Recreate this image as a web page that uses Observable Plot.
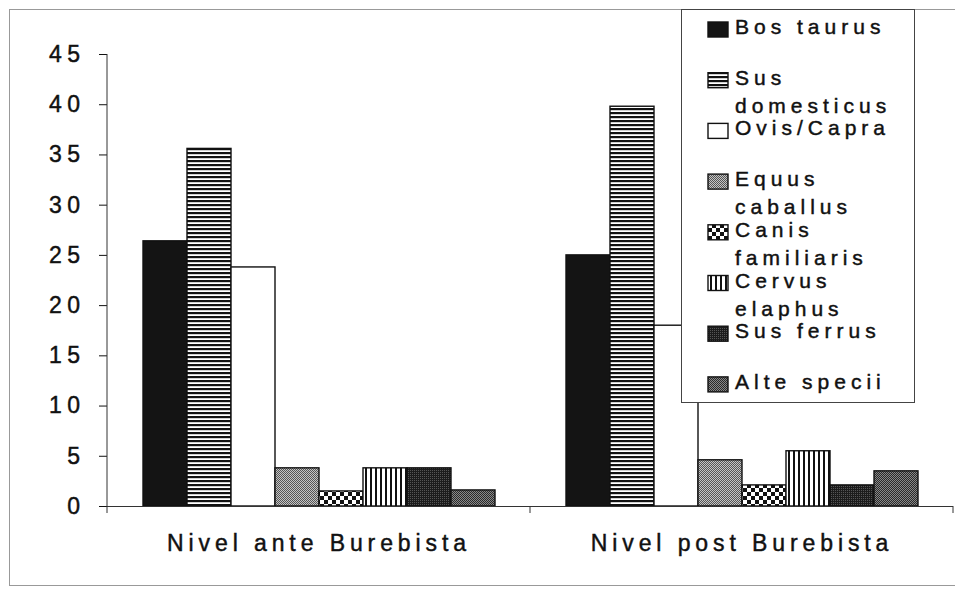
<!DOCTYPE html>
<html>
<head>
<meta charset="utf-8">
<script src="https://cdn.jsdelivr.net/npm/d3@7"></script>
<script src="https://cdn.jsdelivr.net/npm/@observablehq/plot@0.6"></script>
<style>
  html, body { margin: 0; padding: 0; background: white; }
  #chart svg { display: block; }
  #chart svg text { stroke: #111; stroke-width: 0.45px; }
  [aria-label="y-axis tick label"] text, [aria-label="y-axis tick label"] { letter-spacing: 5.5px; }
  [aria-label="fx-axis tick label"] text, [aria-label="fx-axis tick label"] { letter-spacing: 4.9px; }
  .legend text { letter-spacing: 5px; text-anchor: start; }
</style>
</head>
<body>
<div id="chart"></div>
<script>
// ---- data ----
const categories = ["Nivel ante Burebista", "Nivel post Burebista"];
const species = ["Bos taurus", "Sus domesticus", "Ovis/Capra", "Equus caballus",
                 "Canis familiaris", "Cervus elaphus", "Sus ferrus", "Alte specii"];
const valuesAnte = [26.4, 35.6, 23.8, 3.8, 1.5, 3.8, 3.8, 1.6];
const valuesPost = [25.0, 39.8, 18.0, 4.6, 2.1, 5.5, 2.1, 3.5];
const yTicks = [0, 5, 10, 15, 20, 25, 30, 35, 40, 45];
const legendLines = [["Bos taurus"], ["Sus", "domesticus"], ["Ovis/Capra"], ["Equus", "caballus"],
                     ["Canis", "familiaris"], ["Cervus", "elaphus"], ["Sus ferrus"], ["Alte specii"]];
const fills = ["#141414", "url(#pSusDom)", "#ffffff", "url(#pEquus)",
               "url(#pCanis)", "url(#pCervus)", "url(#pSusFer)", "url(#pAlte)"];

const table = [];
categories.forEach((c, ci) => {
  const vals = ci === 0 ? valuesAnte : valuesPost;
  species.forEach((s, si) => table.push({cat: c, species: s, value: vals[si]}));
});
const fillOf = s => fills[species.indexOf(s)];

const FONT = "'Liberation Sans', Arial, sans-serif";

const plot = Plot.plot({
  width: 955, height: 589,
  marginLeft: 107, marginRight: 2, marginTop: 54, marginBottom: 83,
  style: {fontFamily: FONT, fontSize: "23px", color: "#111", background: "white", overflow: "visible"},
  fx: {domain: categories, padding: 0, label: null, axis: "bottom", tickSize: 0, tickPadding: 28},
  x: {domain: species, axis: null, paddingInner: 0, paddingOuter: 0.74},
  y: {domain: [0, 45], ticks: yTicks, tickSize: 8, tickPadding: 14, label: null},
  color: {type: "identity"},
  marks: [
    Plot.barY(table, {fx: "cat", x: "species", y: "value", fill: d => fillOf(d.species),
                      stroke: "#111", strokeWidth: 1.4}),
    Plot.ruleY([0], {stroke: "#333", strokeWidth: 1})
  ]
});

document.getElementById("chart").appendChild(plot);

const svg = d3.select(plot);
// ---- patterns ----
const defs = svg.insert("defs", ":first-child");
function pat(id, w, h, build) {
  const p = defs.append("pattern").attr("id", id).attr("patternUnits", "userSpaceOnUse")
    .attr("width", w).attr("height", h);
  build(p);
}
pat("pSusDom", 4, 4, p => {
  p.append("rect").attr("width", 4).attr("height", 4).attr("fill", "#fff");
  p.append("rect").attr("width", 4).attr("height", 2.2).attr("fill", "#111");
});
pat("pEquus", 2, 2, p => {
  p.append("rect").attr("width", 2).attr("height", 2).attr("fill", "#c4c4c4");
  p.append("rect").attr("width", 1).attr("height", 1).attr("fill", "#555");
  p.append("rect").attr("x", 1).attr("y", 1).attr("width", 1).attr("height", 1).attr("fill", "#555");
});
pat("pCanis", 8, 8, p => {
  p.append("rect").attr("width", 8).attr("height", 8).attr("fill", "#fff");
  p.append("rect").attr("width", 4).attr("height", 4).attr("fill", "#111");
  p.append("rect").attr("x", 4).attr("y", 4).attr("width", 4).attr("height", 4).attr("fill", "#111");
});
pat("pCervus", 5, 5, p => {
  p.append("rect").attr("width", 5).attr("height", 5).attr("fill", "#fff");
  p.append("rect").attr("width", 2).attr("height", 5).attr("fill", "#111");
});
pat("pSusFer", 2, 2, p => {
  p.append("rect").attr("width", 2).attr("height", 2).attr("fill", "#1c1c1c");
  p.append("rect").attr("width", 1).attr("height", 1).attr("fill", "#555");
});
pat("pAlte", 2, 2, p => {
  p.append("rect").attr("width", 2).attr("height", 2).attr("fill", "#888");
  p.append("rect").attr("width", 1).attr("height", 1).attr("fill", "#2a2a2a");
  p.append("rect").attr("x", 1).attr("y", 1).attr("width", 1).attr("height", 1).attr("fill", "#2a2a2a");
});

// ---- axis lines from the plot's scales ----
const ys = plot.scale("y");
const fxs = plot.scale("fx");
const y0 = ys.apply(0), y45 = ys.apply(45);
const left = fxs.range[0];
const extra = svg.append("g");
extra.append("line").attr("x1", left).attr("x2", left).attr("y1", y45).attr("y2", y0)
  .attr("stroke", "#333").attr("stroke-width", 1);
const bounds = [left, ...categories.map(c => fxs.apply(c) + fxs.bandwidth)];
bounds.forEach(b => {
  extra.append("line").attr("x1", b).attr("x2", b).attr("y1", y0).attr("y2", y0 + 7)
    .attr("stroke", "#333").attr("stroke-width", 1);
});

// ---- outer frame ----
svg.append("rect").attr("x", 9.5).attr("y", 9.5).attr("width", 980).attr("height", 576)
  .attr("fill", "none").attr("stroke", "#999").attr("stroke-width", 1);

// ---- legend ----
const lg = svg.append("g").attr("class", "legend").attr("text-anchor", "start");
lg.append("rect").attr("x", 681.5).attr("y", 9.5).attr("width", 233).attr("height", 393)
  .attr("fill", "#fff").attr("stroke", "#444").attr("stroke-width", 1);
species.forEach((s, i) => {
  const top = 22 + i * 50.7;
  lg.append("rect").attr("x", 708).attr("y", top).attr("width", 20).attr("height", 15)
    .attr("fill", fillOf(s)).attr("stroke", "#111").attr("stroke-width", 1.4);
  legendLines[i].forEach((line, j) => {
    lg.append("text").attr("x", 735).attr("y", top + 12 + j * 28)
      .attr("text-anchor", "start")
      .attr("font-family", FONT).attr("font-size", 21).attr("fill", "#111").text(line);
  });
});
</script>
</body>
</html>
